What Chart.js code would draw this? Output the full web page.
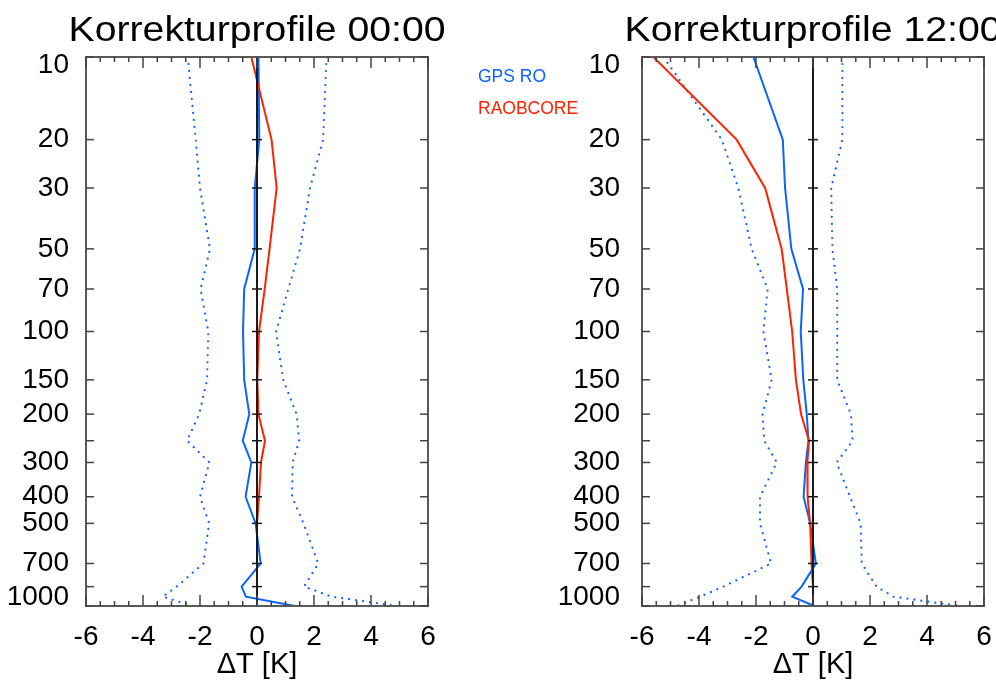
<!DOCTYPE html>
<html><head><meta charset="utf-8">
<script src="https://cdn.jsdelivr.net/npm/chart.js@4"></script>
<style>
html,body{margin:0;padding:0;overflow:hidden;background:#fff;width:996px;height:686px;position:relative}
canvas{position:absolute;top:0}
#c0{left:0}
#c1{left:540px}
</style></head><body>
<canvas id="c0" width="600" height="686"></canvas>
<canvas id="c1" width="500" height="686"></canvas>
<script>
// ---- data ----
const pressureLevels = [10,20,30,50,70,100,150,200,250,300,400,500,700,850,925,1000];
const yTickValues = [10,20,30,50,70,100,150,200,250,300,400,500,700,850,1000];
const yTickLabels = ['10','20','30','50','70','100','150','200','','300','400','500','700','','1000'];
const seriesNames = ['GPS RO','RAOBCORE'];
const panelTitles = ['Korrekturprofile 00:00','Korrekturprofile 12:00'];
const xAxisTitle = '\u0394T [K]';

// 00:00 panel
const gps00     = [0.05,0.08,-0.08,-0.08,-0.45,-0.49,-0.45,-0.27,-0.50,-0.20,-0.40,-0.05,0.13,-0.54,-0.39,1.33];
const gps00Low  = [-2.43,-2.15,-2.00,-1.65,-1.98,-1.71,-1.75,-2.03,-2.45,-1.67,-2.00,-1.68,-1.88,-2.82,-3.31,-2.25];
const gps00High = [2.44,2.32,1.86,1.51,1.10,0.67,0.92,1.39,1.48,1.25,1.23,1.63,2.15,1.65,2.62,4.90];
const rao00     = [-0.20,0.51,0.69,0.44,0.27,0.07,0.01,0.05,0.28,0.14,0.07,0.00,0.00,0.00,0.00,0.00];

// 12:00 panel
const gps12     = [-2.09,-1.06,-0.98,-0.76,-0.35,-0.43,-0.34,-0.22,-0.16,-0.25,-0.33,-0.10,0.10,-0.40,-0.73,0.05];
const gps12Low  = [-5.25,-3.20,-2.62,-2.15,-1.59,-1.74,-1.45,-1.77,-1.71,-1.27,-1.86,-1.86,-1.47,-3.15,-3.96,-4.78];
const gps12High = [1.03,1.03,0.64,0.68,0.85,0.85,0.85,1.33,1.39,0.83,1.30,1.67,1.71,2.23,2.82,5.16];
const rao12     = [-5.60,-2.68,-1.68,-1.10,-0.92,-0.73,-0.60,-0.42,-0.14,-0.20,-0.19,-0.10,-0.05,0.00,0.00,0.00];

// ---- styling ----
const BLUE = '#0a64ff';
const RED = '#ff2200';
const FONT = '"Liberation Sans", Arial, Helvetica, sans-serif';

function line(ctx, x1, y1, x2, y2) { ctx.beginPath(); ctx.moveTo(x1, y1); ctx.lineTo(x2, y2); ctx.stroke(); }

function makePlugin(title, showLegend, labelGap) {
  return {
    id: 'frame',
    afterDatasetsDraw(chart) {
      const {ctx, chartArea: a, scales: {x, y}} = chart;
      ctx.save();
      // zero line
      const x0 = x.getPixelForValue(0);
      ctx.strokeStyle = '#1a1a1a'; ctx.lineWidth = 2;
      line(ctx, x0, a.top, x0, a.bottom);
      ctx.lineWidth = 1.5;
      yTickValues.forEach(p => { const py = y.getPixelForValue(p); line(ctx, x0 - 5, py, x0 + 5, py); });
      // frame
      ctx.strokeStyle = '#5a5a5a'; ctx.lineWidth = 2;
      ctx.strokeRect(a.left, a.top, a.right - a.left, a.bottom - a.top);
      ctx.lineWidth = 1.5; ctx.strokeStyle = '#444';
      yTickValues.forEach(p => {
        const py = y.getPixelForValue(p);
        line(ctx, a.left, py, a.left + 8, py);
        line(ctx, a.right - 8, py, a.right, py);
      });
      for (let v = -6; v <= 6; v += 0.5) {
        const px = x.getPixelForValue(v);
        const len = (Math.abs(v % 2) < 1e-9) ? 11 : 5;
        line(ctx, px, a.bottom, px, a.bottom - len);
        line(ctx, px, a.top, px, a.top + len);
      }
      // y tick labels (end labels kept inside the frame as in the reference)
      ctx.fillStyle = '#000'; ctx.font = '28px ' + FONT;
      ctx.textAlign = 'right'; ctx.textBaseline = 'middle';
      yTickValues.forEach((p, i) => {
        if (!yTickLabels[i]) return;
        let py = y.getPixelForValue(p);
        py = Math.min(Math.max(py, a.top + 8), a.bottom - 9);
        ctx.fillText(yTickLabels[i], a.left - labelGap, py);
      });
      // title (slightly widened glyphs like the original)
      ctx.save();
      const cx = (a.left + a.right) / 2;
      ctx.translate(cx, 41);
      ctx.scale(1.12, 1);
      ctx.font = '35px ' + FONT; ctx.textAlign = 'center'; ctx.textBaseline = 'alphabetic';
      ctx.fillText(title, 0, 0);
      ctx.restore();
      // legend
      if (showLegend) {
        ctx.font = '17.5px ' + FONT; ctx.textAlign = 'left'; ctx.textBaseline = 'middle';
        ctx.fillStyle = BLUE; ctx.fillText(seriesNames[0], 478, 77);
        ctx.fillStyle = RED; ctx.fillText(seriesNames[1], 478, 109);
      }
      ctx.restore();
    }
  };
}

function makeChart(id, title, gps, low, high, rao, padLeft, padRight, showLegend, labelGap) {
  const toPts = vals => pressureLevels.map((p, i) => ({x: vals[i], y: p}));
  const dotted = {showLine: true, borderColor: BLUE, borderWidth: 2.2, borderDash: [0.01, 7], borderCapStyle: 'round', pointRadius: 0, fill: false, tension: 0};
  return new Chart(document.getElementById(id), {
    type: 'scatter',
    data: {datasets: [
      {label: seriesNames[1], data: toPts(rao), showLine: true, borderColor: RED, borderWidth: 2, pointRadius: 0, tension: 0},
      {label: seriesNames[0], data: toPts(gps), showLine: true, borderColor: BLUE, borderWidth: 2, pointRadius: 0, tension: 0},
      Object.assign({label: 'GPS RO -', data: toPts(low)}, dotted),
      Object.assign({label: 'GPS RO +', data: toPts(high)}, dotted)
    ]},
    options: {
      responsive: false, animation: false, events: [],
      layout: {padding: {left: padLeft, right: padRight, top: 57, bottom: 0}},
      plugins: {legend: {display: false}, tooltip: {enabled: false}, title: {display: false}},
      scales: {
        x: {
          type: 'linear', min: -6, max: 6, position: 'bottom',
          grid: {display: false, drawTicks: false}, border: {display: false},
          ticks: {stepSize: 2, color: '#000', padding: 14, font: {family: FONT, size: 28}, callback: v => String(v), maxRotation: 0},
          title: {display: true, text: xAxisTitle, color: '#000', font: {family: FONT, size: 29}, padding: {top: 0, bottom: 4}},
          afterFit: s => { s.height = 80; }
        },
        y: {type: 'logarithmic', reverse: true, min: 10, max: 1000, display: false}
      }
    },
    plugins: [makePlugin(title, showLegend, labelGap)]
  });
}

makeChart('c0', panelTitles[0], gps00, gps00Low, gps00High, rao00, 86, 172, true, 17);
makeChart('c1', panelTitles[1], gps12, gps12Low, gps12High, rao12, 102, 56, false, 22);
</script>
</body></html>
